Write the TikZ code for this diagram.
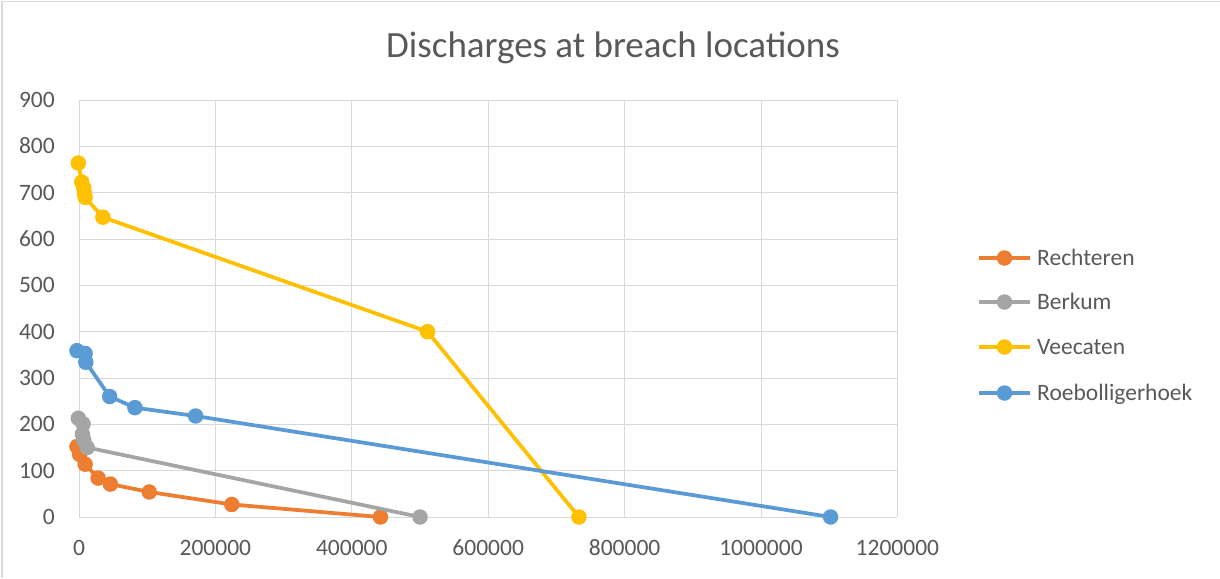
\documentclass[tikz,border=0pt]{standalone}
\usepackage{fontspec}
\setmainfont{Carlito}
\definecolor{cOrange}{HTML}{ED7D31}
\definecolor{cGray}{HTML}{A5A5A5}
\definecolor{cYellow}{HTML}{FFC000}
\definecolor{cBlue}{HTML}{5B9BD5}
\definecolor{cGrid}{HTML}{D9D9D9}
\definecolor{cText}{HTML}{595959}
\begin{document}
\begin{tikzpicture}[x=1pt,y=-1pt,
  gridline/.style={draw=cGrid, line width=1pt},
  frameline/.style={draw=cGrid, line width=1.5pt},
  axlabel/.style={text=cText, font=\fontsize{23.5}{26}\selectfont, inner sep=0pt},
  titlelabel/.style={text=cText, font=\fontsize{37}{40}\selectfont, inner sep=0pt},
  series/.style={line width=3.75pt, line join=round, line cap=round},
  mk/.style={circle, inner sep=0pt, minimum size=15.5pt, draw=none, fill=#1}]
\useasboundingbox (0,0) rectangle (1220,578);
\fill[white] (0,0) rectangle (1220,578);
\draw[frameline] (2,578) -- (2,1.5) -- (1220,1.5);
% title
\node[titlelabel, anchor=base] (title) at (613,58) {Discharges at breach locations};
% grid
\foreach \i in {0,...,9} {
  \draw[gridline] (79,{517-\i*46.333}) -- (897,{517-\i*46.333});
  \pgfmathtruncatemacro{\v}{\i*100}
  \node[axlabel, anchor=base east] (yl\i) at (55,{524.5-\i*46.333}) {\v};
}
\foreach \i/\t in {0/0,1/200000,2/400000,3/600000,4/800000,5/1000000,6/1200000} {
  \draw[gridline] ({79+\i*136.4},100) -- ({79+\i*136.4},517);
  \node[axlabel, anchor=base] (xl\i) at ({79+\i*136.4},555.5) {\t};
}
% data (x in thousands)
\begin{scope}[shift={(79,517)}, x=0.682pt, y=0.46333pt]
  % Rechteren
  \coordinate (r1) at (-3,152); \coordinate (r2) at (1,135); \coordinate (r3) at (9,114);
  \coordinate (r4) at (28,84); \coordinate (r5) at (46,71); \coordinate (r6) at (103,54);
  \coordinate (r7) at (224,27); \coordinate (r8) at (442,0);
  % Berkum
  \coordinate (b1) at (-1,213); \coordinate (b2) at (6,201); \coordinate (b3) at (5,179);
  \coordinate (b4) at (7,166); \coordinate (b5) at (12,150); \coordinate (b6) at (500,0);
  % Veecaten
  \coordinate (v1) at (-1,764); \coordinate (v2) at (4,723); \coordinate (v3) at (7,710);
  \coordinate (v4) at (8,698); \coordinate (v5) at (9,690); \coordinate (v6) at (35,647);
  \coordinate (v7) at (511,400); \coordinate (v8) at (733,0);
  % Roebolligerhoek
  \coordinate (h1) at (-3,359); \coordinate (h2) at (9,353); \coordinate (h3) at (10,334);
  \coordinate (h4) at (45,260); \coordinate (h5) at (82,236); \coordinate (h6) at (171,218);
  \coordinate (h7) at (1102,0);
\end{scope}
\draw[series, cOrange] (r1) -- (r2) -- (r3) -- (r4) -- (r5) -- (r6) -- (r7) -- (r8);
\foreach \p in {1,...,8} \node[mk=cOrange] (r\p m) at (r\p) {};
\draw[series, cGray] (b1) -- (b2) -- (b3) -- (b4) -- (b5) -- (b6);
\foreach \p in {1,...,6} \node[mk=cGray] (b\p m) at (b\p) {};
\draw[series, cYellow] (v1) -- (v2) -- (v3) -- (v4) -- (v5) -- (v6) -- (v7) -- (v8);
\foreach \p in {1,...,8} \node[mk=cYellow] (v\p m) at (v\p) {};
\draw[series, cBlue] (h1) -- (h2) -- (h3) -- (h4) -- (h5) -- (h6) -- (h7);
\foreach \p in {1,...,7} \node[mk=cBlue] (h\p m) at (h\p) {};
% legend
\foreach \k/\c/\y/\t in {1/cOrange/258/Rechteren, 2/cGray/302/Berkum, 3/cYellow/347/Veecaten, 4/cBlue/393/Roebolligerhoek} {
  \coordinate (la\k) at (979,\y);
  \coordinate (lb\k) at (1030,\y);
  \draw[series, \c, line cap=butt] (la\k) -- (lb\k);
  \node[mk=\c] (lm\k) at (1004.5,\y) {};
  \node[axlabel, anchor=base west] (lt\k) at (1037,{\y+7.5}) {\t};
}
\end{tikzpicture}
\end{document}
